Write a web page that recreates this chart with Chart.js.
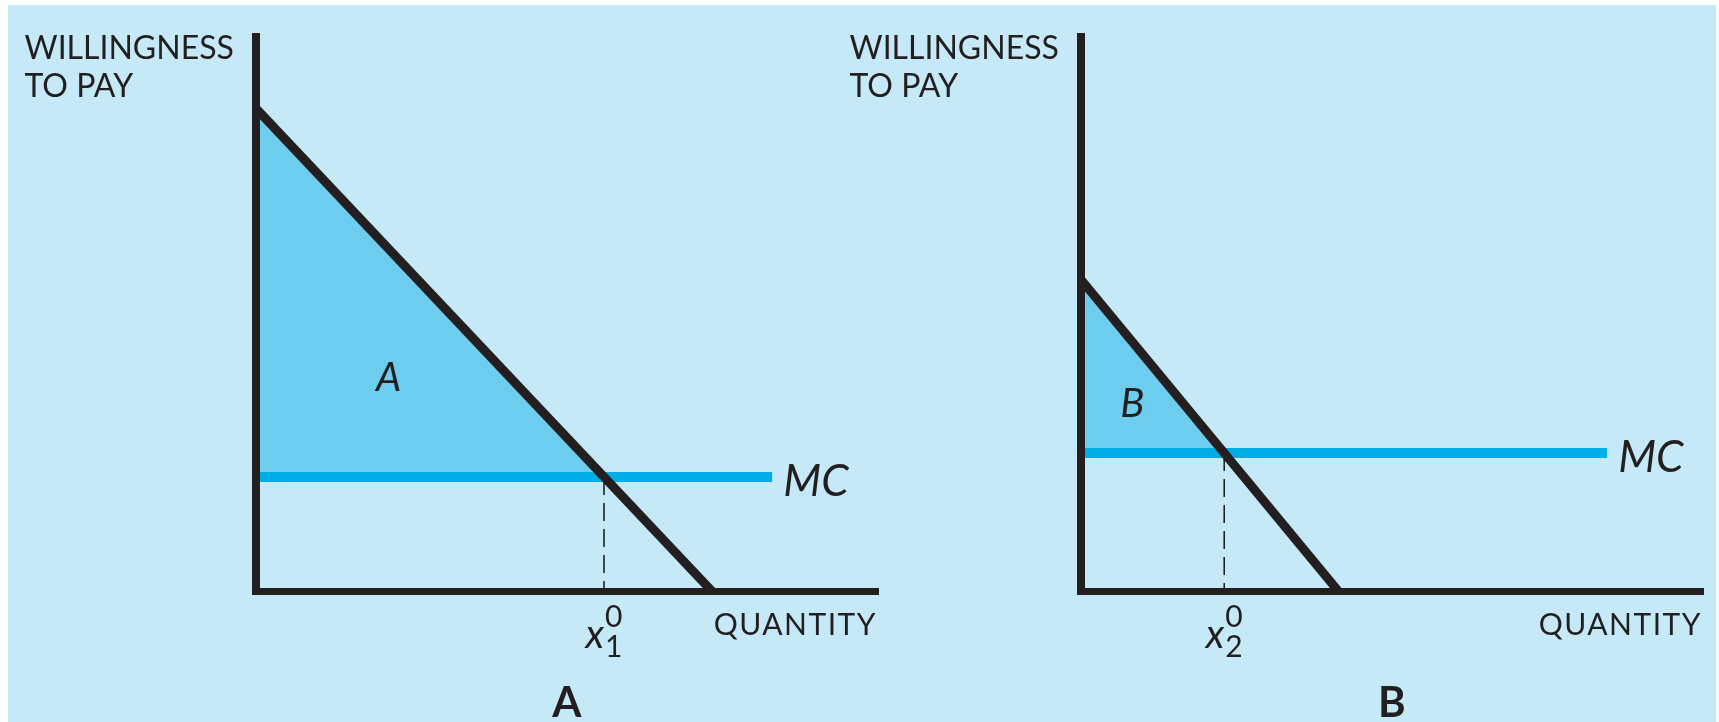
<!DOCTYPE html>
<html>
<head>
<meta charset="utf-8">
<title>Willingness to pay and marginal cost</title>
<script src="https://cdn.jsdelivr.net/npm/chart.js@4.4.1/dist/chart.umd.min.js"></script>
<style>
  html, body { margin: 0; padding: 0; background: #fff; }
  body { width: 1719px; height: 722px; position: relative; overflow: hidden; }
  #backdrop { position: absolute; left: 8px; top: 5px; width: 1708px; height: 717px; background: #c6e9f8; }
  canvas { position: absolute; top: 0; }
  #chartA { left: 0; }
  #chartB { left: 825px; }
</style>
</head>
<body>
<div id="backdrop"></div>
<canvas id="chartA" width="900" height="722"></canvas>
<canvas id="chartB" width="894" height="722"></canvas>
<script>
// two demand curves against the same flat marginal cost
let panelNames = ['A', 'B'];
let surplusNames = ['A', 'B'];
let quantitySubscripts = ['1', '2'];
let demandTop = [8.72, 5.63];     // willingness to pay at zero quantity
let demandEnd = [7.33, 4.14];     // quantity where willingness to pay hits zero
let marginalCost = [2.06, 2.49];
let mcReach = [8.30, 8.46];       // how far right the MC line runs

// where the surplus letters sit, in axis units
const surplusSpot = [[2.14, 3.84], [0.83, 3.38]];

const ink = '#231f20';
const mcBlue = '#00aee6';
const surplusFill = '#6dcdef';

// quantity where demand crosses marginal cost
function crossing(i) {
    return demandEnd[i] * (1 - marginalCost[i] / demandTop[i]);
}

function makeChart(canvasId, i) {
    const q0 = crossing(i);
    const mc = marginalCost[i];
    const canvas = document.getElementById(canvasId);

    const labels = {
        id: 'panelText',
        afterDraw(chart) {
            const {ctx, chartArea, scales} = chart;
            const {left, right, top, bottom} = chartArea;
            const px = v => scales.x.getPixelForValue(v);
            const py = v => scales.y.getPixelForValue(v);
            ctx.save();
            ctx.fillStyle = ink;
            ctx.textBaseline = 'alphabetic';

            // vertical axis caption
            ctx.font = '32px Lato';
            ctx.textAlign = 'left';
            ctx.fillText('WILLINGNESS', left - 231, top + 22);
            ctx.fillText('TO PAY', left - 231, top + 60);

            // horizontal axis caption
            ctx.font = '30px Lato';
            ctx.letterSpacing = '1.5px';
            ctx.textAlign = 'right';
            ctx.fillText('QUANTITY', right - 1, bottom + 44);
            ctx.letterSpacing = '0px';

            // MC tag at the end of the cost line
            ctx.font = 'italic 44px Lato';
            ctx.textAlign = 'left';
            ctx.fillText('MC', px(mcReach[i]) + 11, py(mc) + 19);

            // surplus letter inside the shaded triangle
            ctx.font = 'italic 40px Lato';
            ctx.textAlign = 'center';
            ctx.textBaseline = 'middle';
            ctx.fillText(surplusNames[i], px(surplusSpot[i][0]), py(surplusSpot[i][1]));

            // x_i^0 under the dashed drop line
            const qx = px(q0);
            ctx.textBaseline = 'alphabetic';
            ctx.font = 'italic 40px Lato';
            ctx.textAlign = 'right';
            ctx.fillText('x', qx, bottom + 57);
            ctx.font = '30px Lato';
            ctx.textAlign = 'left';
            ctx.fillText('0', qx + 1, bottom + 36);
            ctx.fillText(quantitySubscripts[i], qx + 1, bottom + 66);

            // panel letter
            ctx.font = 'bold 42px Lato';
            ctx.textAlign = 'center';
            ctx.fillText(panelNames[i], (left + right) / 2, bottom + 126);
            ctx.restore();
        }
    };

    return new Chart(canvas, {
        type: 'scatter',
        data: {
            datasets: [
                {
                    label: 'Demand',
                    data: [{x: 0, y: demandTop[i]}, {x: demandEnd[i], y: 0}],
                    showLine: true,
                    borderColor: ink,
                    borderWidth: 9,
                    pointRadius: 0
                },
                {
                    label: 'Drop line',
                    data: [{x: q0, y: mc}, {x: q0, y: 0}],
                    showLine: true,
                    borderColor: ink,
                    borderWidth: 1.6,
                    borderDash: [18, 8],
                    pointRadius: 0
                },
                {
                    label: 'MC',
                    data: [{x: 0, y: mc}, {x: mcReach[i], y: mc}],
                    showLine: true,
                    borderColor: mcBlue,
                    borderWidth: 10,
                    pointRadius: 0
                },
                {
                    label: 'Surplus',
                    data: [{x: 0, y: demandTop[i]}, {x: q0, y: mc}],
                    showLine: true,
                    borderWidth: 0,
                    borderColor: 'rgba(0,0,0,0)',
                    backgroundColor: surplusFill,
                    fill: {value: mc},
                    pointRadius: 0
                }
            ]
        },
        options: {
            responsive: false,
            animation: false,
            events: [],
            layout: {
                autoPadding: false,
                padding: {left: 255.5, right: canvas.width - 878, top: 37, bottom: 131}
            },
            plugins: {
                legend: {display: false},
                tooltip: {enabled: false}
            },
            scales: {
                x: {
                    type: 'linear',
                    min: 0,
                    max: 10,
                    grid: {display: false, drawTicks: false},
                    ticks: {display: false},
                    border: {color: ink, width: 7, z: 1}
                },
                y: {
                    type: 'linear',
                    min: 0,
                    max: 10,
                    grid: {display: false, drawTicks: false},
                    ticks: {display: false},
                    border: {color: ink, width: 8, z: 1}
                }
            }
        },
        plugins: [labels]
    });
}

makeChart('chartA', 0);
makeChart('chartB', 1);
</script>
</body>
</html>
